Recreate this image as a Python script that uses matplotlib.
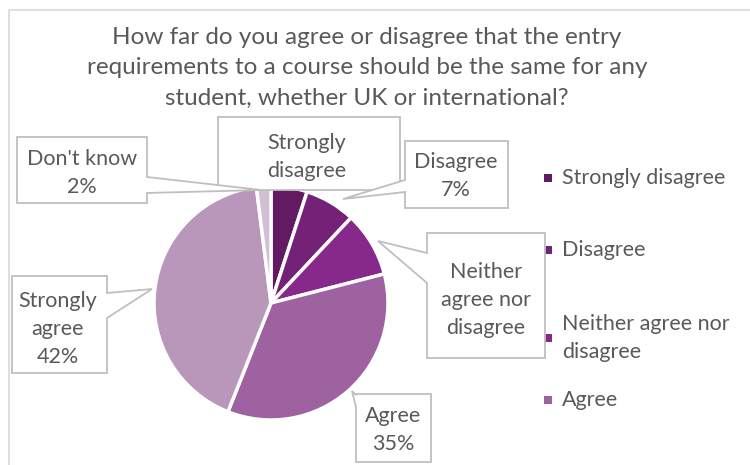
import matplotlib
matplotlib.use("Agg")
import matplotlib.pyplot as plt
from matplotlib.patches import Polygon, Rectangle

plt.rcParams["font.family"] = ["Lato", "DejaVu Sans"]

# data
categories = ["Strongly disagree", "Disagree", "Neither agree nor disagree",
              "Agree", "Strongly agree", "Don't know"]
shares = [5, 7, 9, 35, 42, 2]
colors = ["#621a62", "#742178", "#87298b", "#9f62a1", "#b897ba", "#d3bfd5"]
slice_labels = ["Strongly\ndisagree", "Disagree\n7%", "Neither\nagree nor\ndisagree",
                "Agree\n35%", "Strongly\nagree\n42%", "Don't know\n2%"]
legend_labels = ["Strongly disagree", "Disagree", "Neither agree nor\ndisagree", "Agree"]
title = ("How far do you agree or disagree that the entry\n"
         "requirements to a course should be the same for any\n"
         "student, whether UK or international?")

W, H = 750, 465
text_col = "#595959"
line_col = "#bfbfbf"

fig = plt.figure(figsize=(W / 100, H / 100), dpi=100)

# pie, centre (271, 303) px, radius 117 px
cx, cy, r = 271, 303, 117
ax = fig.add_axes([(cx - r) / W, (H - cy - r) / H, 2 * r / W, 2 * r / H])
ax.pie(shares, colors=colors, startangle=90, counterclock=False,
       wedgeprops=dict(edgecolor="white", linewidth=2.5))
ax.set_xlim(-1, 1)
ax.set_ylim(-1, 1)
ax.set_aspect("equal")

# overlay in pixel coordinates for frame, callouts, legend
ov = fig.add_axes([0, 0, 1, 1])
ov.set_xlim(0, W)
ov.set_ylim(H, 0)
ov.axis("off")
ov.patch.set_alpha(0)

ov.add_patch(Rectangle((9, 10), W, H, fill=False, edgecolor="#d9d9d9", lw=1.2))
ov.text(367, 68, title, ha="center", va="center", fontsize=17.5, color=text_col,
        linespacing=1.55)

# callout boxes: (x0, y0, x1, y1), wedge side, wedge base, wedge tip
callouts = [
    ((218, 117, 400, 190), None, None, None),
    ((405, 141, 508, 208), "left", (180, 192), (343, 199)),
    ((427, 233, 545, 358), "left", (253, 283), (378, 241)),
    ((356, 394, 431, 462), "left", (395, 407), (352, 391)),
    ((12, 276, 107, 373), "right", (293, 318), (152, 289)),
    ((17, 137, 147, 203), "right", (177, 193), (261, 190)),
]
# text centre of each label, px
label_xy = [(307, 157), (456, 176), (486, 300), (393, 430), (58, 329), (82, 173)]

for (box, side, base, tip), lab, (tx, ty) in zip(callouts, slice_labels, label_xy):
    x0, y0, x1, y1 = box
    if side == "left":
        pts = [(x0, y0), (x1, y0), (x1, y1), (x0, y1),
               (x0, base[1]), tip, (x0, base[0])]
    elif side == "right":
        pts = [(x0, y0), (x1, y0), (x1, base[0]), tip,
               (x1, base[1]), (x1, y1), (x0, y1)]
    else:
        pts = [(x0, y0), (x1, y0), (x1, y1), (x0, y1)]
    ov.add_patch(Polygon(pts, closed=True, facecolor="white",
                         edgecolor=line_col, lw=1.3, zorder=3))
    ov.text(tx, ty, lab, ha="center", va="center",
            fontsize=15.5, color=text_col, linespacing=1.5, zorder=4)

# legend
legend_y = [178, 250, 338, 400]
for lab, col, y in zip(legend_labels, colors, legend_y):
    ov.add_patch(Rectangle((544, y - 4), 8, 8, facecolor=col, edgecolor="none"))
    ov.text(562, y, lab, ha="left", va="center", fontsize=15.5, color=text_col,
            linespacing=1.5)

fig.savefig("out.png", dpi=100)
